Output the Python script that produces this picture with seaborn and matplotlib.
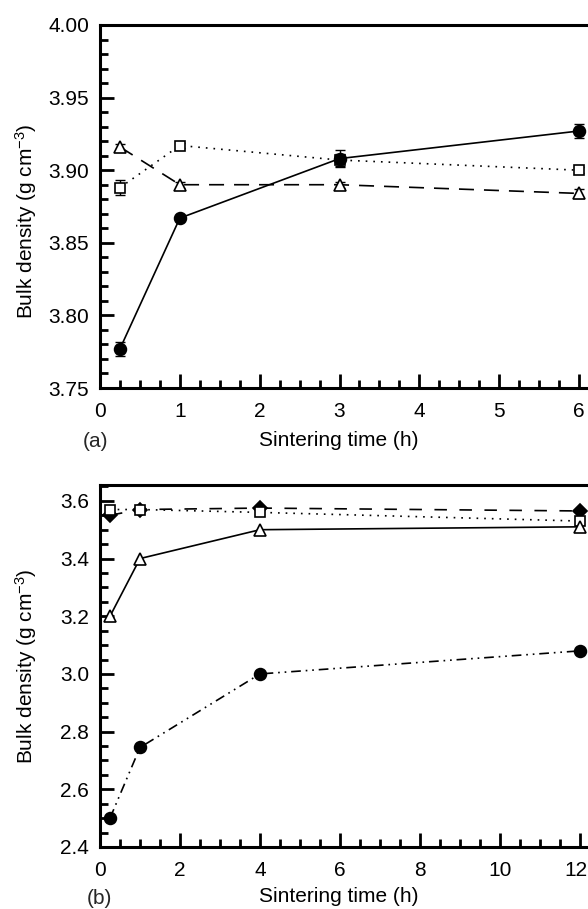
import numpy as np
import pandas as pd
import matplotlib
matplotlib.use("Agg")
import matplotlib.pyplot as plt
import matplotlib.transforms as mtransforms
from matplotlib.ticker import MultipleLocator, FormatStrFormatter
import seaborn as sns

sns.set_theme(style="ticks")
plt.rcParams["font.family"] = ["Liberation Sans", "DejaVu Sans"]
plt.rcParams["mathtext.default"] = "regular"
plt.rcParams["lines.scale_dashes"] = False

# ---- panel (a): sintering times and bulk densities ----
time_a = [0.25, 1, 3, 6]
circ_a = [3.777, 3.867, 3.908, 3.927]
circ_a_err = [0.005, 0.0, 0.006, 0.005]
sq_a = [3.888, 3.917, 3.907, 3.900]
sq_a_err = [0.005, 0.002, 0.004, 0.002]
tri_a = [3.916, 3.890, 3.890, 3.884]
tri_a_err = [0.002, 0.002, 0.002, 0.003]

# ---- panel (b) ----
time_b = [0.25, 1, 4, 12]
circ_b = [2.50, 2.745, 3.00, 3.08]
tri_b = [3.20, 3.40, 3.50, 3.51]
sq_b = [3.57, 3.57, 3.56, 3.53]
dia_b = [3.55, 3.57, 3.575, 3.565]

yticks_a = [3.75, 3.80, 3.85, 3.90, 3.95, 4.00]
xticks_a = [0, 1, 2, 3, 4, 5, 6]
yticks_b = [2.4, 2.6, 2.8, 3.0, 3.2, 3.4, 3.6]
xticks_b = [0, 2, 4, 6, 8, 10, 12]

W, H = 588, 909
fig = plt.figure(figsize=(W / 100, H / 100), dpi=100)
ax_a = fig.add_axes([100 / W, 1 - 388 / H, 499 / W, 363 / H])
ax_b = fig.add_axes([100 / W, 1 - 847 / H, 500 / W, 362 / H])

FS = 15
LW = 1.2


def series(ax, x, y, marker, filled, dashes, ms, err=None):
    df = pd.DataFrame({"t": x, "d": y})
    ls = "-" if dashes is None else (0, dashes)
    sns.lineplot(data=df, x="t", y="d", ax=ax, color="black", linewidth=LW,
                 linestyle=ls, marker=marker, markersize=ms,
                 markerfacecolor="black" if filled else "white",
                 markeredgecolor="black", markeredgewidth=1.2,
                 clip_on=False, zorder=3)
    if err is not None:
        ax.errorbar(x, y, yerr=err, fmt="none", ecolor="black",
                    elinewidth=1.0, capsize=3.5, capthick=1.0, zorder=2)


# panel (a)
series(ax_a, time_a, tri_a, "^", False, (10.8, 7.2), 8.5, tri_a_err)
series(ax_a, time_a, sq_a, "s", False, (1.2, 4.3), 7.5, sq_a_err)
series(ax_a, time_a, circ_a, "o", True, None, 8.5, circ_a_err)

# panel (b)
series(ax_b, time_b, circ_b, "o", True, (7, 3.5, 1.2, 3.5, 1.2, 3.5), 8.5)
series(ax_b, time_b, dia_b, "D", True, (9, 9), 7)
series(ax_b, time_b, sq_b, "s", False, (1.2, 4.3), 7.5)
series(ax_b, time_b, tri_b, "^", False, None, 8.5)

ax_a.set_xlim(0, 6.25)
ax_a.set_ylim(3.75, 4.00)
ax_b.set_xlim(0, 12.5)
ax_b.set_ylim(2.4, 3.655)

ax_a.set_xticks(xticks_a)
ax_a.set_yticks(yticks_a)
ax_a.yaxis.set_major_formatter(FormatStrFormatter("%.2f"))
ax_a.xaxis.set_minor_locator(MultipleLocator(0.25))
ax_a.yaxis.set_minor_locator(MultipleLocator(0.01))

ax_b.set_xticks(xticks_b)
ax_b.set_yticks(yticks_b)
ax_b.yaxis.set_major_formatter(FormatStrFormatter("%.1f"))
ax_b.xaxis.set_minor_locator(MultipleLocator(0.5))
ax_b.yaxis.set_minor_locator(MultipleLocator(0.05))

for ax, tag in ((ax_a, "(a)"), (ax_b, "(b)")):
    for s in ax.spines.values():
        s.set_linewidth(2.2)
        s.set_color("black")
    ax.spines["right"].set_visible(False)
    ax.tick_params(which="major", direction="in", length=10, width=2.0,
                   labelsize=FS, colors="black")
    ax.tick_params(which="minor", direction="in", length=5.5, width=2.0,
                   colors="black")
    ax.tick_params(axis="y", which="major", pad=8)
    ax.tick_params(axis="x", which="major", pad=10)
    ax.tick_params(top=False, right=False, which="both")
    ax.set_xlabel("Sintering time (h)", fontsize=FS, color="black")
    ax.set_ylabel("Bulk density (g cm$^{-3}$)", fontsize=FS, color="black")
    ax.xaxis.label.set_va("center")
    ax.yaxis.label.set_va("center")
    ax.grid(False)

ax_a.xaxis.set_label_coords(0.479, -(440 - 388) / 363)
ax_a.yaxis.set_label_coords(-74 / 499, 0.46)
ax_b.xaxis.set_label_coords(0.478, -(897 - 847) / 362)
ax_b.yaxis.set_label_coords(-74 / 500, 0.5)

# keep the last tick label of panel (b) inside the figure edge
fig.canvas.draw()
last = ax_b.get_xticklabels()[-1]
last.set_transform(last.get_transform()
                   + mtransforms.ScaledTranslation(-4 / 100, 0, fig.dpi_scale_trans))

fig.text(96 / W, 1 - 442 / H, "(a)", fontsize=FS, ha="center", va="center")
fig.text(99 / W, 1 - 898 / H, "(b)", fontsize=FS, ha="center", va="center")

fig.savefig("out.png", dpi=100)
